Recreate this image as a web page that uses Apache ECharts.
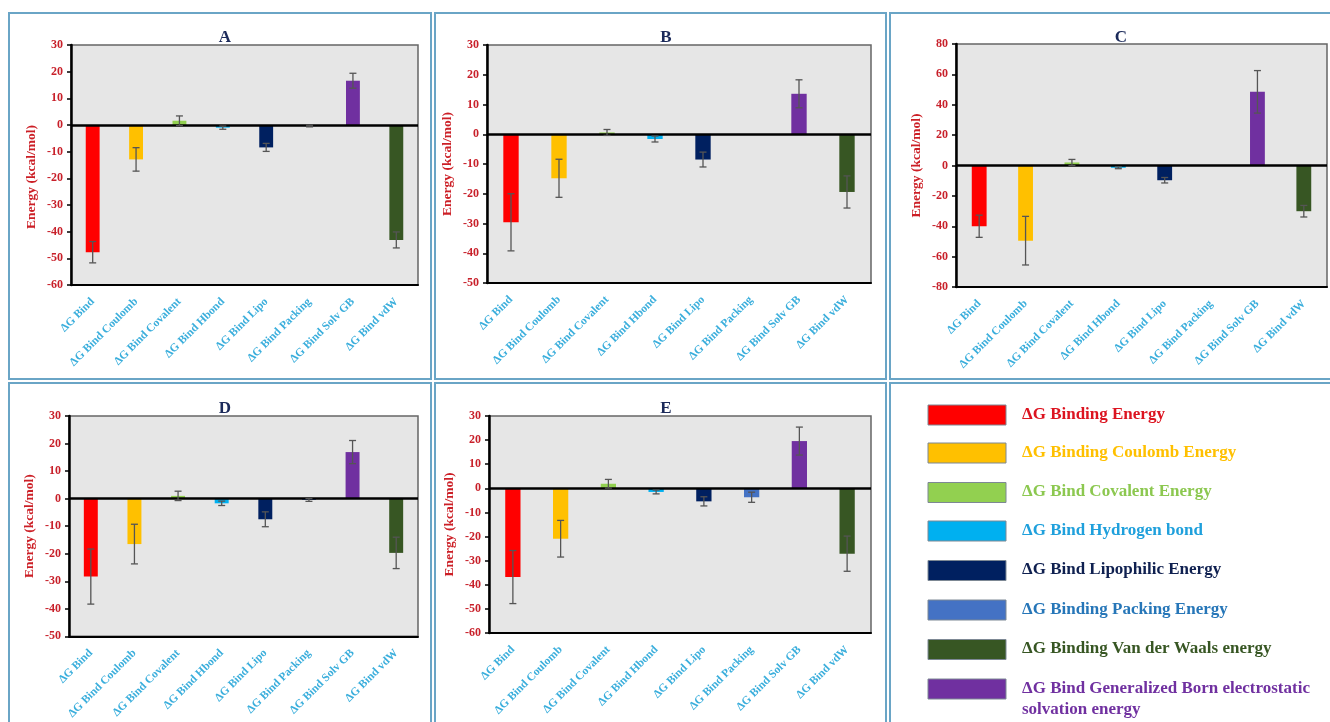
<!DOCTYPE html>
<html>
<head>
<meta charset="utf-8">
<title>Binding free energy components</title>
<script src="https://cdn.jsdelivr.net/npm/echarts@6/dist/echarts.min.js"></script>
<style>
  html, body { margin: 0; padding: 0; background: #ffffff; }
  #chart { width: 1330px; height: 722px; }
</style>
</head>
<body>
<div id="chart"></div>
<script>
// Energy components shown on every panel
const categories = ['ΔG Bind', 'ΔG Bind Coulomb', 'ΔG Bind Covalent', 'ΔG Bind Hbond',
                    'ΔG Bind Lipo', 'ΔG Bind Packing', 'ΔG Bind Solv GB', 'ΔG Bind vdW'];
const barColors = ['#ff0000', '#ffc000', '#92d050', '#00b0f0', '#002060', '#4472c4', '#7030a0', '#375623'];

const panelNames = ['A', 'B', 'C', 'D', 'E'];

// Mean energies (kcal/mol) and standard deviations for each complex
const valuesA = [-47.7, -12.9, 1.6, -1.0, -8.4, -0.4, 16.6, -43.1];
const errorsA = [4.0, 4.4, 1.8, 0.6, 1.5, 0.3, 2.8, 3.0];
const valuesB = [-29.6, -14.8, 0.6, -1.6, -8.5, 0.0, 13.6, -19.4];
const errorsB = [9.6, 6.4, 1.0, 1.0, 2.5, 0.0, 4.7, 5.4];
const valuesC = [-40.0, -49.5, 2.0, -1.5, -9.7, 0.0, 48.5, -30.1];
const errorsC = [7.3, 16.0, 2.0, 0.6, 1.8, 0.0, 14.0, 3.8];
const valuesD = [-28.3, -16.5, 1.0, -1.7, -7.5, -0.5, 16.9, -19.7];
const errorsD = [10.0, 7.2, 1.7, 0.8, 2.7, 0.5, 4.2, 5.7];
const valuesE = [-36.8, -20.9, 1.9, -1.5, -5.4, -3.7, 19.6, -27.1];
const errorsE = [11.0, 7.6, 1.8, 0.8, 1.9, 2.1, 5.8, 7.3];

// Value-axis ranges per panel
const axisMin = [-60, -50, -80, -50, -60];
const axisMax = [30, 30, 80, 30, 30];
const axisStep = [10, 10, 20, 10, 10];

// Legend entries
const legendLabels = ['ΔG Binding Energy', 'ΔG Binding Coulomb Energy', 'ΔG Bind Covalent Energy',
                      'ΔG Bind Hydrogen bond', 'ΔG Bind Lipophilic Energy', 'ΔG Binding Packing Energy',
                      'ΔG Binding Van der Waals energy', 'ΔG Bind Generalized Born electrostatic\nsolvation energy'];
const legendSwatch = ['#ff0000', '#ffc000', '#92d050', '#00b0f0', '#002060', '#4472c4', '#375623', '#7030a0'];
const legendText = ['#dc1420', '#ffc000', '#8cc850', '#1fa0dc', '#0f2050', '#2676b8', '#375623', '#7030a0'];

const panelValues = [valuesA, valuesB, valuesC, valuesD, valuesE];
const panelErrors = [errorsA, errorsB, errorsC, errorsD, errorsE];

// Layout: plot rectangles and outer frames
const plots = [
  { left: 71,  top: 45,  width: 347, height: 240 },
  { left: 487, top: 45,  width: 384, height: 238 },
  { left: 956, top: 44,  width: 371, height: 243 },
  { left: 69,  top: 416, width: 349, height: 225 },
  { left: 489, top: 416, width: 382, height: 217 }
];
const frames = [
  { x: 9,   y: 13,  w: 422, h: 366 },
  { x: 435, y: 13,  w: 451, h: 366 },
  { x: 890, y: 13,  w: 460, h: 366 },
  { x: 9,   y: 383, w: 422, h: 360 },
  { x: 435, y: 383, w: 451, h: 360 },
  { x: 890, y: 383, w: 460, h: 360 }
];
const titleCenters = [220, 661, 1116, 220, 661];
const titleTops = [24, 24, 24, 395, 395];

const serif = "'Liberation Serif', 'DejaVu Serif', 'Times New Roman', serif";

const grid = [], xAxis = [], yAxis = [], series = [], title = [];

plots.forEach((p, i) => {
  grid.push({
    left: p.left, top: p.top, width: p.width, height: p.height,
    show: true, backgroundColor: '#e6e6e6', borderColor: '#666666', borderWidth: 1.5
  });
  xAxis.push({
    type: 'category', gridIndex: i, data: categories,
    axisLine: { onZero: false, lineStyle: { color: '#000', width: 2 } },
    axisTick: { show: false },
    axisLabel: {
      interval: 0, rotate: 45, margin: 15,
      color: '#3aaedc', fontFamily: serif, fontWeight: 'bold', fontSize: 11.5
    },
    splitLine: { show: false }
  });
  yAxis.push({
    type: 'value', gridIndex: i,
    min: axisMin[i], max: axisMax[i], interval: axisStep[i],
    name: 'Energy (kcal/mol)', nameLocation: 'middle', nameGap: 32,
    nameTextStyle: {
      color: '#cc1f26', fontFamily: serif, fontWeight: 'bold', fontSize: 13.5,
      padding: i === 0 ? [0, 24, 0, 0] : 0
    },
    axisLine: { show: true, lineStyle: { color: '#000', width: 2.5 } },
    axisTick: { show: true, inside: false, length: 4, lineStyle: { color: '#000', width: 1.5 } },
    axisLabel: { color: '#c8202a', fontFamily: serif, fontWeight: 'bold', fontSize: 12, margin: 8 },
    splitLine: { show: false }
  });
  title.push({
    text: panelNames[i], left: titleCenters[i], top: titleTops[i], textAlign: 'center',
    textStyle: { color: '#1b2a5a', fontFamily: serif, fontWeight: 'bold', fontSize: 17 }
  });

  const vals = panelValues[i];
  const errs = panelErrors[i];

  series.push({
    type: 'bar', xAxisIndex: i, yAxisIndex: i, barWidth: '32%',
    data: vals.map((v, k) => ({ value: v, itemStyle: { color: barColors[k] } })),
    markLine: {
      silent: true, symbol: 'none', label: { show: false },
      lineStyle: { color: '#000', width: 2.5, type: 'solid' },
      data: [{ yAxis: 0 }]
    }
  });

  series.push({
    type: 'custom', xAxisIndex: i, yAxisIndex: i, z: 5,
    data: vals.map((v, k) => [k, v - errs[k], v + errs[k]]),
    encode: { x: 0, y: [1, 2] },
    renderItem: function (params, api) {
      const lo = api.value(1), hi = api.value(2);
      if (hi - lo <= 0) return null;
      const a = api.coord([api.value(0), lo]);
      const b = api.coord([api.value(0), hi]);
      const cap = 3.5;
      const style = { stroke: '#555555', lineWidth: 1.3 };
      return {
        type: 'group',
        children: [
          { type: 'line', shape: { x1: a[0], y1: a[1], x2: b[0], y2: b[1] }, style },
          { type: 'line', shape: { x1: a[0] - cap, y1: a[1], x2: a[0] + cap, y2: a[1] }, style },
          { type: 'line', shape: { x1: b[0] - cap, y1: b[1], x2: b[0] + cap, y2: b[1] }, style }
        ]
      };
    }
  });
});

// Panel frames and the colour key
const graphic = frames.map(f => ({
  type: 'rect', silent: true, z: -1,
  shape: { x: f.x, y: f.y, width: f.w, height: f.h },
  style: { fill: 'none', stroke: '#6aa5c6', lineWidth: 2 }
}));
const legendRows = [415, 453, 492.5, 531, 570.5, 610, 649.5, 689];
legendLabels.forEach((label, k) => {
  graphic.push({
    type: 'rect', silent: true,
    shape: { x: 928, y: legendRows[k] - 10, width: 78, height: 20 },
    style: { fill: legendSwatch[k], stroke: '#7d8894', lineWidth: 1 }
  });
  graphic.push({
    type: 'text', silent: true,
    x: 1022, y: legendRows[k] - 11,
    style: {
      text: label, fill: legendText[k], font: 'bold 17px ' + serif,
      lineHeight: 21, verticalAlign: 'top', align: 'left'
    }
  });
});

const chart = echarts.init(document.getElementById('chart'), null, { renderer: 'canvas' });
chart.setOption({
  animation: false,
  backgroundColor: '#ffffff',
  title, grid, xAxis, yAxis, series, graphic
});
</script>
</body>
</html>
